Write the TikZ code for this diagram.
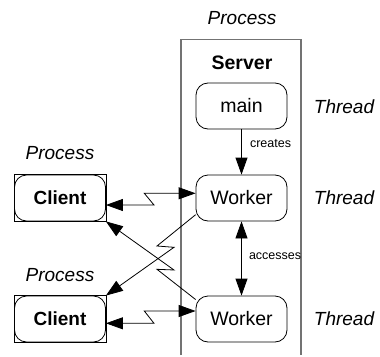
\documentclass[tikz,border=0pt]{standalone}
\usepackage{fontspec}
\setmainfont{Liberation Sans}
\usetikzlibrary{arrows.meta, positioning}

\begin{document}
\begin{tikzpicture}[x=1pt, y=-1pt,
        thr/.style={rectangle, rounded corners=12pt, draw, line width=0.8pt,
                    minimum width=91pt, minimum height=46pt, inner sep=0pt,
                    font=\fontsize{19.5}{22}\selectfont},
        cli/.style={thr, font=\fontsize{19}{22}\selectfont\bfseries},
        lbl/.style={font=\fontsize{19}{22}\selectfont\itshape},
        small/.style={font=\fontsize{12.5}{15}\selectfont, anchor=west},
        srv/.style={draw=black!55, line width=1.2pt},
        arr/.style={-{Triangle[length=17pt,width=12pt]}, line width=0.8pt},
        dbl/.style={{Triangle[length=17pt,width=12pt]}-{Triangle[length=17pt,width=12pt]},
                    line width=0.8pt},
      ]
        \useasboundingbox (0,0) rectangle (380,356);

        % Server process box, open at the bottom
        \draw[srv] (181,355) |- (301,39.5) -- (301,355);
        \node[lbl] (psrv) at (242,18) {Process};
        \node[font=\fontsize{19.5}{22}\selectfont\bfseries] (srvname) at (242,63) {Server};

        \node[thr] (main) at (241.5,106) {main};
        \node[thr] (wk1)  at (241.5,198) {Worker};
        \node[thr] (wk2)  at (241.5,319) {Worker};

        \node[lbl] (t1) at (344,107) {Thread};
        \node[lbl] (t2) at (344,198) {Thread};
        \node[lbl] (t3) at (344,319) {Thread};

        % Clients
        \node[cli] (cl1) at (60,198) {Client};
        \node[cli] (cl2) at (60,319) {Client};
        \draw[line width=0.6pt] (cl1.north west) rectangle (cl1.south east);
        \draw[line width=0.6pt] (cl2.north west) rectangle (cl2.south east);
        \node[lbl] (p1) at (60,153) {Process};
        \node[lbl] (p2) at (60,275) {Process};

        % Inside the server
        \draw[arr] (main) -- (wk1);
        \draw[dbl] (wk1) -- (wk2);
        \node[small] (cr) at (246.5,144) {creates};
        \node[small] (ac) at (245.5,256) {accesses};

        % Connections to the clients
        \draw[dbl] ([yshift=-7pt]cl1.east) -- (154,205) -- (144.3,193.3)
          -- ([yshift=4.7pt]wk1.west);
        \draw[dbl] ([yshift=-4.3pt]cl2.east) -- (154,323.3) -- (144.3,311)
          -- ([yshift=8pt]wk2.west);
        \draw[arr] (wk1.200) -- (157,246) -- (174,247.3) -- (cl2.north east);
        \draw[arr] (wk2.157) -- (157,269.3) -- (174,270) -- (cl1.south east);
      \end{tikzpicture}
\end{document}
